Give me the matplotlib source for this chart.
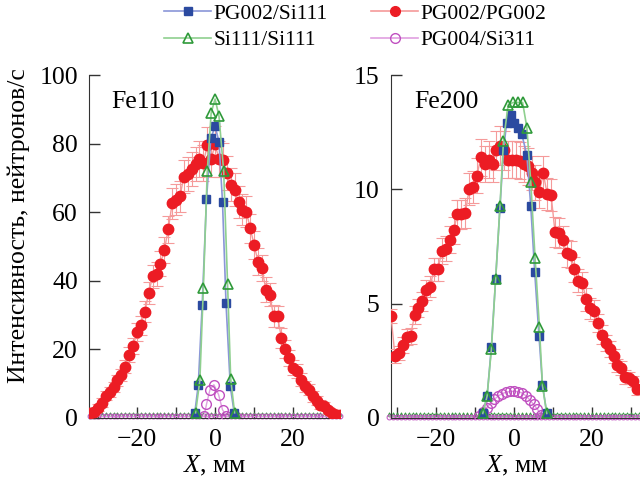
import numpy as np
import matplotlib
matplotlib.use("Agg")
import matplotlib.pyplot as plt
from matplotlib.lines import Line2D

plt.rcParams['font.family'] = 'serif'
plt.rcParams['font.serif'] = ['Liberation Serif', 'DejaVu Serif']
plt.rcParams['mathtext.fontset'] = 'custom'
plt.rcParams['mathtext.it'] = 'Liberation Serif:italic'
plt.rcParams['mathtext.rm'] = 'Liberation Serif'

# ---- Fe110 data ----
fe110_red_x = np.arange(-32, 33)
fe110_red_y = [1.5, 1.8, 3, 4.5, 6.5, 7.5, 9, 11, 12.6, 15, 18.5, 21, 25, 27, 31, 36.5,
               41.3, 42, 45, 49, 55, 62.6, 63.6, 64.6, 70.4, 71.2, 72.5, 74, 75.5, 74.3, 79.6, 75.5,
               79.8,
               75.5, 75.2, 71.4, 68, 66.5, 63, 60.7, 60.2, 55.3, 50.5, 45.6, 43.7, 37.4, 36, 29.6,
               29.6, 23.3, 20, 17.5, 14.6, 13.6, 11.2, 9.2, 8.3, 6.3, 5.1, 3.9, 3.4, 2.2, 1.5, 1.0, 1.0]
fe110_red_err = [1, 1, 1, 1.2, 1.3, 1.4, 1.5, 1.6,
                 1.8, 2, 2.2, 2.4, 2.6, 2.8, 3, 3.2,
                 3.4, 3.5, 3.6, 3.8, 4, 4.5, 4.5, 4.6,
                 4.8, 5, 5, 5, 5.2, 5.2, 5.3, 5.2,
                 5.3,
                 5.2, 5, 5, 4.8, 4.8, 4.6, 4.5, 4.4,
                 4.3, 4, 4, 3.8, 3.6, 3.4, 3.2, 3,
                 2.8, 2.6, 2.4, 2.2, 2, 1.8, 1.7, 1.6,
                 1.5, 1.4, 1.3, 1.2, 1.1, 1, 1, 1]
fe110_blue_x = [-5.2, -4.3, -3.3, -2.2, -1.1, 0, 1.0, 1.9, 2.8, 3.9, 4.9]
fe110_blue_y = [1.5, 9.7, 33, 63.8, 81.5, 85, 80.6, 63, 33.5, 9.2, 1.5]
fe110_green_x = [-5, -3.9, -3, -2, -1, 0, 1, 2.2, 3.2, 4, 5]
fe110_green_y = [1.5, 11, 38, 72, 89, 93, 88, 72, 39, 11.4, 1.5]
fe110_mag_x = [-2.8, -2.2, -1.3, -0.3, 0.9, 1.9, 2.9]
fe110_mag_y = [0.7, 4, 8.3, 9.7, 6.8, 2.4, 0.7]
fe110_bg_green = 1.3
fe110_bg_mag = 0.5

# ---- Fe200 data ----
fe200_red_x = np.arange(-31.5, 32)
fe200_red_y = [4.45, 2.7, 2.85, 3.2, 3.55, 3.6, 4.5, 4.8, 5.1, 5.6,
               5.75, 6.5, 6.5, 7.3, 7.4, 7.8, 8.2, 8.9, 8.9, 8.95,
               10.0, 10.1, 10.6, 11.4, 11.1, 11.3, 11.1, 11.7, 11.9, 11.7,
               11.3, 11.3, 11.3, 11.25, 11.1, 11.0, 10.7, 10.3, 9.9, 10.7,
               9.8, 9.75, 8.15, 8.1, 7.8, 7.2, 7.15, 6.5, 6.0, 5.9,
               5.2, 4.8, 4.7, 4.15, 3.65, 3.3, 3.0, 2.7, 2.3, 2.2,
               1.8, 1.75, 1.6, 1.25]
fe200_red_err = [0.3, 0.3, 0.3, 0.35, 0.35, 0.35, 0.4, 0.4, 0.4, 0.45,
                 0.45, 0.5, 0.5, 0.55, 0.55, 0.6, 0.6, 0.65, 0.65, 0.65,
                 0.7, 0.7, 0.75, 0.8, 0.8, 0.8, 0.8, 0.85, 0.85, 0.85,
                 0.8, 0.8, 0.8, 0.8, 0.8, 0.8, 0.75, 0.75, 0.7, 0.75,
                 0.7, 0.7, 0.65, 0.65, 0.6, 0.6, 0.6, 0.55, 0.5, 0.5,
                 0.5, 0.45, 0.45, 0.4, 0.4, 0.35, 0.35, 0.3, 0.3, 0.3,
                 0.3, 0.25, 0.25, 0.25]
fe200_blue_x = [-8.0, -6.9, -5.8, -4.7, -3.6, -2.7, -1.9, -0.8, 0.1, 1.1, 2.0, 3.3, 4.3, 5.3, 6.4, 7.3, 8.4]
fe200_blue_y = [0.2, 0.95, 3.1, 6.1, 9.2, 11.7, 12.9, 13.25, 12.9, 12.7, 12.4, 11.5, 9.25, 6.4, 3.6, 1.45, 0.2]
fe200_green_x = [-8.0, -6.9, -5.8, -4.7, -3.6, -2.7, -1.5, -0.2, 1.1, 2.2, 3.3, 4.3, 5.4, 6.5, 7.3, 8.4]
fe200_green_y = [0.2, 0.95, 3.0, 6.1, 9.25, 12.1, 13.7, 13.8, 13.8, 13.8, 12.7, 10.3, 7.0, 4.0, 1.4, 0.2]
fe200_mag_x = np.arange(-9, 9)
fe200_mag_y = [0.1, 0.25, 0.45, 0.65, 0.82, 0.97, 1.07, 1.13, 1.16, 1.17,
               1.15, 1.1, 0.98, 0.8, 0.6, 0.38, 0.15, 0.05]
fe200_bg_green = 0.17
fe200_bg_mag = 0.03

bg_x = np.arange(-32, 33)

labels = ['PG002/Si111', 'PG002/PG002', 'Si111/Si111', 'PG004/Si311']

BLUE = '#2b4aa0'
BLUE_L = '#8a96d8'
RED = '#ec1c24'
RED_L = '#f59a9a'
GREEN = '#2f9a3a'
GREEN_L = '#8fd08f'
MAG = '#c050c0'
MAG_L = '#e0a0e0'

fig = plt.figure(figsize=(6.4, 4.79), dpi=100)
ax1 = fig.add_axes([89/640, 1-418/479, (340-89)/640, (418-75)/479])
ax2 = fig.add_axes([390.7/640, 1-418/479, (642-390.7)/640, (418-75)/479])


def draw(ax, rx, ry, rerr, bx, by, gx, gy, mx, my, bg_g, bg_m):
    ax.plot(bg_x, [bg_g]*len(bg_x), ls=':', color=GREEN, lw=1, marker='^',
            ms=2.5, mfc='none', mec=GREEN, mew=0.6, zorder=2, clip_on=False)
    ax.plot(bg_x, [bg_m]*len(bg_x), color=MAG_L, lw=1, marker='o',
            ms=3.5, mfc='none', mec=MAG, mew=0.7, zorder=2, clip_on=False)
    ax.errorbar(rx, ry, yerr=rerr, color=RED_L, lw=1, ecolor=RED_L, elinewidth=0.8,
                capsize=4, capthick=0.8, marker='o', ms=7.5, mfc=RED, mec=RED,
                zorder=3)
    ax.plot(mx, my, color=MAG_L, lw=1, marker='o', ms=7, mfc='none', mec=MAG,
            mew=1, zorder=4)
    ax.plot(bx, by, color=BLUE_L, lw=1.2, marker='s', ms=6, mfc=BLUE, mec=BLUE,
            zorder=5)
    ax.plot(gx, gy, color=GREEN_L, lw=1.2, marker='^', ms=7.5, mfc='none', mec=GREEN,
            mew=1.2, zorder=6)


draw(ax1, fe110_red_x, fe110_red_y, fe110_red_err, fe110_blue_x, fe110_blue_y,
     fe110_green_x, fe110_green_y, fe110_mag_x, fe110_mag_y,
     fe110_bg_green, fe110_bg_mag)
draw(ax2, fe200_red_x, fe200_red_y, fe200_red_err, fe200_blue_x, fe200_blue_y,
     fe200_green_x, fe200_green_y, fe200_mag_x, fe200_mag_y,
     fe200_bg_green, fe200_bg_mag)

ax1.set_xlim(-32.3, 32)
ax1.set_ylim(0, 100)
ax1.set_yticks([0, 20, 40, 60, 80, 100])
ax2.set_xlim(-31.6, 32.8)
ax2.set_ylim(0, 15)
ax2.set_yticks([0, 5, 10, 15])

for ax in (ax1, ax2):
    ax.set_xticks([-20, 0, 20])
    ax.set_xticklabels(['\u221220', '0', '20'])
    ax.set_xticks([-30, -10, 10, 30], minor=True)
    ax.spines['top'].set_visible(False)
    ax.spines['right'].set_visible(False)
    ax.spines['left'].set_color('#333333')
    ax.spines['bottom'].set_color('#333333')
    ax.tick_params(which='both', direction='in', length=8, width=1, color='#333333',
                   labelsize=18.5, pad=8)
    ax.set_xlabel('$\\mathit{X}$, мм', fontsize=18.5, labelpad=2)

ax1.text(-26.5, 92, 'Fe110', fontsize=18.5, va='center')
ax2.text(-25.5, 13.8, 'Fe200', fontsize=18.5, va='center')

fig.text(0.012, 0.53, 'Интенсивность, нейтронов/с', rotation=90, fontsize=18.5,
         va='center', ha='left')

h_blue = Line2D([], [], color=BLUE_L, lw=1.2, marker='s', ms=6, mfc=BLUE, mec=BLUE)
h_red = Line2D([], [], color=RED_L, lw=1.2, marker='o', ms=7, mfc=RED, mec=RED)
h_green = Line2D([], [], color=GREEN_L, lw=1.2, marker='^', ms=7, mfc='none', mec=GREEN, mew=1.2)
h_mag = Line2D([], [], color=MAG_L, lw=1.2, marker='o', ms=7, mfc='none', mec=MAG, mew=1)
fig.legend([h_blue, h_green, h_red, h_mag], [labels[0], labels[2], labels[1], labels[3]],
           ncol=2, loc='upper left', bbox_to_anchor=(0.243, 1.01), frameon=False,
           fontsize=15.5, handlelength=2.2, handletextpad=0.1, columnspacing=2.0,
           labelspacing=0.3, borderaxespad=0)

fig.savefig('out.png', dpi=100)
